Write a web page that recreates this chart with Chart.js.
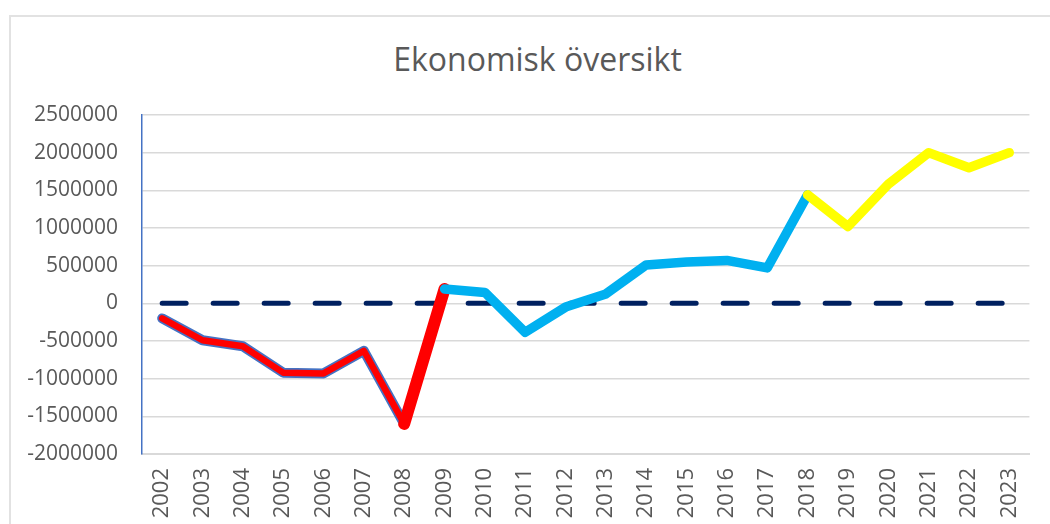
<!DOCTYPE html>
<html>
<head>
<meta charset="utf-8">
<script src="https://cdn.jsdelivr.net/npm/chart.js@4"></script>
<style>
    html, body { margin: 0; padding: 0; background: #fff; overflow: hidden; }
    #frame { position: absolute; left: 9px; top: 15px; width: 1100px; height: 600px; border: 2px solid #e2e2e2; }
    #wrap { position: absolute; left: 0; top: 0; width: 1050px; height: 524px; }
    #title {
        position: absolute; left: 0; width: 1075px; top: 38px; text-align: center;
        font-family: 'Open Sans', sans-serif; font-size: 32px; line-height: 42px; color: #595959;
    }
</style>
</head>
<body>
<div id="frame"></div>
<div id="title">Ekonomisk översikt</div>
<div id="wrap"><canvas id="chart"></canvas></div>
<script>
const years = ['2002', '2003', '2004', '2005', '2006', '2007', '2008', '2009', '2010', '2011', '2012',
    '2013', '2014', '2015', '2016', '2017', '2018', '2019', '2020', '2021', '2022', '2023'];
const values = [-200000, -490000, -570000, -920000, -930000, -630000, -1600000, 190000, 145000, -385000, -50000,
    125000, 510000, 550000, 570000, 470000, 1440000, 1020000, 1580000, 2000000, 1800000, 2000000];
const zeroLine = [0, 0, 0, 0, 0, 0, 0, 0, 0, 0, 0, 0, 0, 0, 0, 0, 0, 0, 0, 0, 0, 0];

// colour periods by year
const redPeriod = ['2002', '2008'];
const crashPeriod = ['2008', '2009'];
const bluePeriod = ['2009', '2018'];
const yellowPeriod = ['2018', '2023'];

function part(range) {
    const a = years.indexOf(range[0]);
    const b = years.indexOf(range[1]);
    return values.map((v, i) => (i >= a && i <= b ? v : null));
}

const lineBase = { pointRadius: 0, borderCapStyle: 'round', borderJoinStyle: 'round', fill: false, spanGaps: false };

new Chart(document.getElementById('chart'), {
    type: 'line',
    data: {
        labels: years,
        datasets: [
            { ...lineBase, data: zeroLine, borderColor: '#002060', borderWidth: 5, borderDash: [24, 27], order: 6 },
            { ...lineBase, data: part(redPeriod), borderColor: '#4472C4', borderWidth: 10, order: 5 },
            { ...lineBase, data: part(redPeriod), borderColor: '#FF0000', borderWidth: 6.5, order: 4 },
            { ...lineBase, data: part(crashPeriod), borderColor: '#FF0000', borderWidth: 12, order: 3 },
            { ...lineBase, data: part(bluePeriod), borderColor: '#00B0F0', borderWidth: 9.5, order: 2 },
            { ...lineBase, data: part(yellowPeriod), borderColor: '#FFFF00', borderWidth: 9.5, order: 1 }
        ]
    },
    options: {
        responsive: true,
        maintainAspectRatio: false,
        animation: false,
        layout: { padding: { top: 115, right: 15, left: 0, bottom: 0 } },
        plugins: {
            legend: { display: false },
            tooltip: { enabled: false },
            title: { display: false }
        },
        scales: {
            x: {
                offset: true,
                grid: { display: false, drawTicks: false },
                border: { display: true, color: '#d9d9d9', width: 2 },
                ticks: {
                    autoSkip: false, minRotation: 90, maxRotation: 90, padding: 14,
                    color: '#595959', font: { family: 'Open Sans', size: 22 }
                },
                afterFit: (scale) => { scale.height = 70; }
            },
            y: {
                min: -2000000,
                max: 2500000,
                grid: { color: '#d9d9d9', lineWidth: 1.5, drawTicks: false },
                border: { display: true, color: '#4472C4', width: 1.5 },
                ticks: {
                    stepSize: 500000, padding: 24, color: '#595959',
                    font: { family: 'Open Sans', size: 21 },
                    callback: (v) => String(v)
                },
                afterFit: (scale) => { scale.width = 142; }
            }
        }
    }
});
</script>
</body>
</html>
